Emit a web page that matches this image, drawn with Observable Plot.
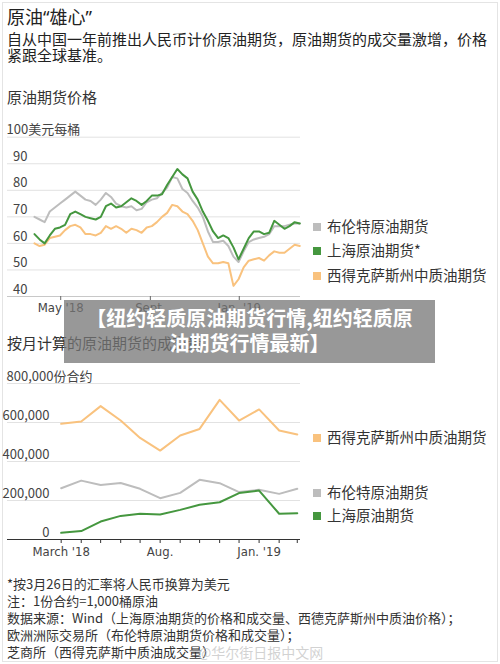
<!DOCTYPE html>
<html><head><meta charset="utf-8">
<script src="https://cdn.jsdelivr.net/npm/d3@7"></script>
<script src="https://cdn.jsdelivr.net/npm/@observablehq/plot@0.6"></script>
<style>
body{margin:0;background:#fff;font-family:"Noto Sans CJK SC","Noto Sans",sans-serif;color:#222;}
#page{position:relative;width:500px;height:664px;overflow:hidden;background:#fff;}
.abs{position:absolute;white-space:nowrap;}
.frame{position:absolute;left:2px;top:2px;width:494px;height:658px;border:1px solid #e4e4e4;}
.leg{position:absolute;left:313px;font-size:14.5px;line-height:16px;color:#333;white-space:nowrap;}
.sw{display:inline-block;width:8px;height:8px;margin-right:6px;vertical-align:1px;}
.banner{position:absolute;left:64px;top:300px;width:371px;height:63px;background:rgba(118,118,118,0.75);color:#fff;font-weight:bold;font-size:20px;line-height:25px;text-align:center;padding-top:5px;box-sizing:border-box;}
.foot{position:absolute;left:7px;font-size:13px;line-height:17px;color:#333;white-space:nowrap;}
.sub{position:absolute;left:7px;font-size:15px;line-height:15px;color:#222;white-space:nowrap;}
</style></head>
<body><div id="page">
<div class="frame"></div>
<div class="abs" style="left:7px;top:7px;font-size:18px;line-height:21px;color:#222;font-family:'Noto Sans','Noto Sans CJK SC',sans-serif;">原油“雄心”</div>
<div class="sub" style="top:31px;">自从中国一年前推出人民币计价原油期货，原油期货的成交量激增，价格</div>
<div class="sub" style="top:47px;">紧跟全球基准。</div>
<div class="abs" style="left:7px;top:89px;font-size:15px;line-height:16px;color:#333;">原油期货价格</div>
<div id="chart1" class="abs" style="left:0;top:120px;"></div>
<div id="legend1"></div>
<div class="abs" style="left:7px;top:335px;font-size:15px;line-height:16px;color:#333;">按月计算的原油期货的成交量</div>
<div id="chart2" class="abs" style="left:0;top:366px;"></div>
<div id="legend2"></div>
<div class="banner">【纽约轻质原油期货行情,纽约轻质原<br>油期货行情最新】</div>
<div class="foot" style="top:575px;">*按3月26日的汇率将人民币换算为美元</div>
<div class="foot" style="top:592px;">注：1份合约=1,000桶原油</div>
<div class="foot" style="top:609px;">数据来源：Wind（上海原油期货的价格和成交量、西德克萨斯州中质油价格）；</div>
<div class="foot" style="top:626px;">欧洲洲际交易所（布伦特原油期货价格和成交量）；</div>
<div class="foot" style="top:643px;">芝商所（西得克萨斯中质油成交量）</div>
<div class="abs" style="left:198px;top:643px;font-size:14px;line-height:18px;color:rgba(190,190,190,0.7);">@华尔街日报中文网</div>
</div>
<script>
// ---------- Chart 1 data: weekly futures prices (USD / barrel) ----------
const priceDates = ["2018-03-26","2018-04-02","2018-04-09","2018-04-16","2018-04-23","2018-04-30","2018-05-07","2018-05-14","2018-05-21","2018-05-28","2018-06-04","2018-06-11","2018-06-18","2018-06-25","2018-07-02","2018-07-09","2018-07-16","2018-07-23","2018-07-30","2018-08-06","2018-08-13","2018-08-20","2018-08-27","2018-09-03","2018-09-10","2018-09-17","2018-09-24","2018-10-01","2018-10-08","2018-10-15","2018-10-22","2018-10-29","2018-11-05","2018-11-12","2018-11-19","2018-11-26","2018-12-03","2018-12-10","2018-12-17","2018-12-24","2018-12-31","2019-01-07","2019-01-14","2019-01-21","2019-01-28","2019-02-04","2019-02-11","2019-02-18","2019-02-25","2019-03-04","2019-03-11","2019-03-18","2019-03-25"];
const brentPrice = [70,69,68,72,73.5,75,76.5,78,79.5,78,76.5,76,74.5,76.5,79,77.5,75,74,73.5,74,72.5,73,75.5,76.5,77,79,81,85,84.5,80.5,79,76,73.5,70,64.5,60.5,60.5,61,59,55,53,57,60.5,61.5,62,62.5,63.5,66.5,66.5,66.5,67,67.5,67.5];
const shanghaiPrice = [63.5,61.5,60,63,65.5,66,67,71,72,71,70,69.5,69,70,74,75,73.5,74,75.5,77,76,74.5,76,78,78,78.5,82,85,88,86,84.5,79.5,76.5,72,68.5,64.5,62,63,62,58.5,54,58,62,64.5,64.5,63.5,64,68.5,67,65.5,66.5,68,67.5];
const wtiPrice = [60,59,59.5,62,62.5,63,65,66.5,67,66,63.5,63.5,63,64,66.5,65.5,66.5,65.5,64,65.5,65,64,66,66.5,68,70,71.5,74.5,74,72,71,68.5,65,60,55,52.5,52.5,53,52.5,44,46.5,51,53.5,54,54.5,53.5,55.5,57,56.5,56.5,58,59.5,59];
const priceTicks = [40,50,60,70,80,90,100];
const priceXTicks = ["2018-05-01","2018-09-01","2019-01-01"];
const priceXLabels = ["May '18","Sept.","Jan. '19"];
const priceDomain = ["2018-02-17","2019-03-26"];

// ---------- Chart 2 data: monthly volume (contracts) ----------
const volMonths = ["2018-03-01","2018-04-01","2018-05-01","2018-06-01","2018-07-01","2018-08-01","2018-09-01","2018-10-01","2018-11-01","2018-12-01","2019-01-01","2019-02-01","2019-03-01"];
const wtiVol = [593000,605000,684000,610000,521000,456000,533000,567000,716000,610000,667000,559000,538000];
const brentVol = [263000,302000,280000,290000,260000,212000,239000,306000,289000,243000,255000,234000,260000];
const shanghaiVol = [34000,43000,92000,121000,132000,128000,152000,178000,191000,238000,251000,132000,135000];
const volTicks = [0,200000,400000,600000,800000];
const volXLabels = ["March '18","","","","","Aug.","","","","","Jan. '19","",""];
const volDomain = ["2017-12-08","2019-03-06"];

// ---------- Series names / colours ----------
const names1 = ["布伦特原油期货","上海原油期货*","西得克萨斯州中质油期货"];
const names2 = ["西得克萨斯州中质油期货","布伦特原油期货","上海原油期货"];
const cGray = "#bdbdbd", cGreen = "#45973f", cOrange = "#f9c27e";

const font = '"Noto Sans CJK SC","Noto Sans",sans-serif';
const narrow = '"Liberation Sans Narrow","DejaVu Sans Condensed","Noto Sans CJK SC",sans-serif';
const toSeries = (dates, vals) => dates.map((d, i) => ({date: new Date(d), v: vals[i]}));

const chart1 = Plot.plot({
  width: 500, height: 200,
  marginLeft: 7, marginRight: 200, marginTop: 16.7, marginBottom: 24,
  style: {fontFamily: font, fontSize: "13px", color: "#333", background: "transparent", overflow: "visible"},
  x: {type: "utc", domain: priceDomain.map(d => new Date(d)), axis: null},
  y: {domain: [40, 100], axis: null},
  marks: [
    Plot.ruleY(priceTicks.slice(1), {stroke: "#e2e2e2"}),
    Plot.ruleY([40], {stroke: "#c8c8c8"}),
    Plot.text(priceTicks.slice(0, -1), {y: d => d, frameAnchor: "left", textAnchor: "end", dx: 20, dy: -7, fill: "#444"}),
    Plot.text([100], {y: d => d, frameAnchor: "left", textAnchor: "start", dx: -1, dy: -7, fill: "#444", text: d => d + "美元每桶"}),
    Plot.axisX(priceXTicks.map(d => new Date(d)), {tickSize: 4, tickPadding: 2, stroke: "#666", fill: "#444", fontFamily: narrow, fontSize: 13,
      tickFormat: d => priceXLabels[priceXTicks.findIndex(t => +new Date(t) === +d)]}),
    Plot.lineY(toSeries(priceDates, brentPrice), {x: "date", y: "v", stroke: cGray, strokeWidth: 2}),
    Plot.lineY(toSeries(priceDates, wtiPrice), {x: "date", y: "v", stroke: cOrange, strokeWidth: 2}),
    Plot.lineY(toSeries(priceDates, shanghaiPrice), {x: "date", y: "v", stroke: cGreen, strokeWidth: 2})
  ]
});
document.getElementById("chart1").append(chart1);

const chart2 = Plot.plot({
  width: 500, height: 200,
  marginLeft: 7, marginRight: 200, marginTop: 17, marginBottom: 27,
  style: {fontFamily: font, fontSize: "13px", color: "#333", background: "transparent", overflow: "visible"},
  x: {type: "utc", domain: volDomain.map(d => new Date(d)), axis: null},
  y: {domain: [0, 800000], axis: null},
  marks: [
    Plot.ruleY(volTicks.slice(1), {stroke: "#e2e2e2"}),
    Plot.text(volTicks.slice(0, -1), {y: d => d, frameAnchor: "left", textAnchor: "end", dx: 42, dy: -7, fill: "#444", text: d => d3.format(",")(d)}),
    Plot.text([800000], {y: d => d, frameAnchor: "left", textAnchor: "start", dx: -1, dy: -7, fill: "#444", text: d => d3.format(",")(d) + "份合约"}),
    Plot.axisX(volMonths.map(d => new Date(d)), {tickSize: 4, tickPadding: 3, stroke: "#333", fill: "#444", fontFamily: narrow, fontSize: 13,
      tickFormat: d => volXLabels[volMonths.findIndex(t => +new Date(t) === +d)]}),
    Plot.ruleY([0], {stroke: "#333"}),
    Plot.lineY(toSeries(volMonths, brentVol), {x: "date", y: "v", stroke: cGray, strokeWidth: 2}),
    Plot.lineY(toSeries(volMonths, wtiVol), {x: "date", y: "v", stroke: cOrange, strokeWidth: 2}),
    Plot.lineY(toSeries(volMonths, shanghaiVol), {x: "date", y: "v", stroke: cGreen, strokeWidth: 2})
  ]
});
document.getElementById("chart2").append(chart2);

// ---------- Legends ----------
const colorOf = {"布伦特原油期货": cGray, "上海原油期货*": cGreen, "上海原油期货": cGreen, "西得克萨斯州中质油期货": cOrange};
function legend(containerId, names, tops) {
  const c = document.getElementById(containerId);
  names.forEach((n, i) => {
    const d = document.createElement("div");
    d.className = "leg";
    d.style.top = tops[i] + "px";
    d.innerHTML = `<span class="sw" style="background:${colorOf[n]}"></span>${n}`;
    c.append(d);
  });
}
legend("legend1", names1, [218, 242, 267]);
legend("legend2", names2, [429, 484, 507]);
</script>
</body></html>
